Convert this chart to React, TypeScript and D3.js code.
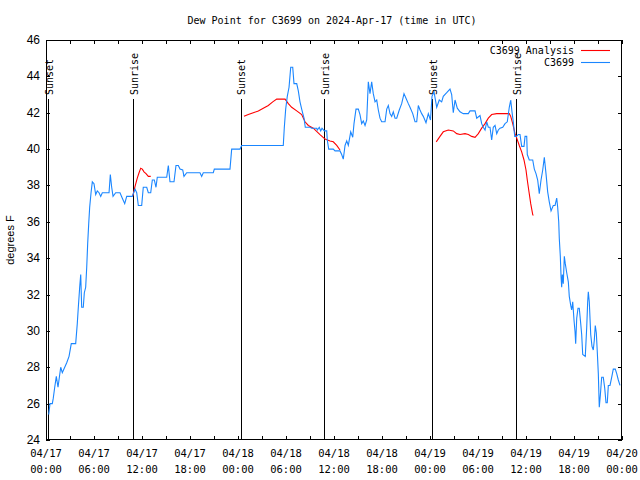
import React from "react";
import * as d3 from "d3";

// Hours since 2024-04-17 00:00 UTC
const obsHours = [
  0.34, 0.5, 0.79, 0.91, 1.09, 1.29, 1.5, 1.84, 2.04, 2.34, 2.59, 2.88, 3.16, 3.71, 3.91, 4.04, 4.21, 4.34, 4.46, 4.66,
  4.79, 4.96, 5.09, 5.21, 5.34, 5.46, 5.63, 5.79, 6.0, 6.21, 6.41, 6.63, 6.84, 7.04, 7.88, 8.04, 8.21, 8.38, 8.71, 9.25,
  9.54, 9.84, 10.09, 10.79, 11.13, 11.34, 11.54, 11.96, 12.16, 12.59, 12.79, 13.09, 13.29, 13.54, 13.75, 13.91, 15.09, 15.29, 15.5, 16.0,
  16.25, 16.54, 16.75, 17.09, 17.25, 17.59, 19.25, 19.46, 19.66, 20.91, 21.04, 23.0, 23.21, 24.25, 24.46, 29.66, 29.79, 29.96, 30.16, 30.38,
  30.59, 30.84, 31.0, 31.34, 31.54, 31.75, 31.96, 32.25, 32.41, 33.0, 33.21, 33.84, 33.91, 34.16, 34.34, 34.5, 34.79, 35.09, 35.16, 35.34,
  35.91, 36.13, 36.75, 36.96, 37.16, 37.38, 37.59, 37.79, 38.09, 38.34, 38.5, 38.75, 39.04, 39.25, 39.46, 39.66, 39.88, 40.09, 40.29, 40.5,
  40.71, 40.91, 41.13, 41.34, 41.54, 41.75, 41.96, 42.38, 42.59, 42.79, 43.0, 43.21, 43.41, 43.63, 43.84, 44.16, 44.46, 44.75, 45.0, 45.29,
  45.5, 45.84, 46.13, 46.34, 46.54, 46.75, 46.96, 47.16, 47.5, 47.79, 48.06, 48.25, 48.5, 48.84, 49.16, 49.46, 49.66, 50.09, 50.5, 50.71,
  50.91, 51.13, 51.41, 51.75, 52.16, 52.79, 53.0, 53.63, 53.84, 54.25, 54.46, 54.66, 54.88, 55.09, 55.29, 55.5, 55.71, 55.91, 56.13, 56.34,
  56.54, 56.75, 57.09, 57.38, 57.66, 57.91, 58.09, 58.25, 58.41, 58.59, 58.79, 59.04, 59.25, 59.46, 59.75, 59.88, 60.09, 60.16, 60.41, 60.84,
  61.04, 61.25, 61.46, 61.66, 61.88, 62.09, 62.29, 62.5, 62.71, 62.91, 63.13, 63.41, 63.63, 63.84, 63.96, 64.09, 64.16, 64.29, 64.38, 64.46,
  64.54, 64.66, 64.79, 64.91, 65.09, 65.29, 65.41, 65.59, 65.71, 65.84, 66.0, 66.13, 66.21, 66.34, 66.5, 66.66, 66.84, 66.96, 67.09, 67.41,
  67.59, 67.71, 67.79, 67.91, 68.09, 68.25, 68.41, 68.54, 68.66, 68.79, 68.91, 69.04, 69.16, 69.29, 69.46, 69.66, 69.84, 70.0, 70.16, 70.29,
  70.5, 70.71, 70.91, 71.16, 71.34, 71.54, 71.75,
];
const obsValues = [
  25.4, 26.0, 26.0, 26.3, 26.9, 27.5, 26.9, 28.0, 27.7, 28.0, 28.25, 28.6, 29.3, 29.3, 30.4, 31.3, 32.4, 33.1, 31.3, 31.3,
  32.1, 32.4, 33.5, 34.8, 35.9, 36.8, 37.6, 38.2, 38.1, 37.5, 37.7, 37.6, 37.4, 37.6, 37.6, 38.6, 37.9, 37.4, 37.6, 37.6,
  37.3, 37.0, 37.4, 37.4, 37.8, 37.6, 36.9, 36.9, 37.9, 37.9, 37.6, 37.6, 38.3, 38.3, 37.9, 38.45, 38.45, 39.1, 38.2, 38.2,
  39.1, 39.1, 38.9, 38.85, 38.5, 38.7, 38.7, 38.5, 38.7, 38.7, 38.9, 38.9, 40.0, 40.0, 40.2, 40.2, 41.2, 42.2, 42.9, 43.4,
  44.5, 44.5, 43.6, 43.6, 43.2, 42.6, 42.2, 41.7, 41.2, 41.2, 41.15, 41.15, 41.05, 41.2, 41.0, 41.15, 41.0, 41.0, 40.5, 40.0,
  40.0, 39.9, 39.9, 39.7, 39.45, 40.2, 40.45, 40.2, 40.95, 40.65, 41.4, 42.2, 42.2, 41.9, 41.4, 41.55, 41.3, 41.6, 43.7, 43.05,
  43.7, 43.05, 42.6, 42.7, 42.15, 41.7, 41.5, 41.5, 42.2, 42.4, 41.95, 41.8, 42.05, 41.7, 41.7, 42.15, 42.5, 43.05, 42.8, 42.5,
  42.3, 41.95, 41.5, 41.5, 42.4, 42.15, 41.95, 41.8, 41.45, 41.95, 41.6, 42.9, 43.15, 42.3, 42.7, 42.6, 42.9, 43.1, 43.3, 43.0,
  42.0, 42.7, 42.25, 42.05, 41.95, 41.95, 42.1, 42.1, 41.7, 41.85, 41.4, 41.2, 41.05, 41.5, 41.2, 41.2, 40.5, 41.2, 41.3, 40.85,
  41.05, 41.15, 41.2, 41.4, 41.5, 42.3, 42.7, 42.05, 41.5, 40.7, 40.7, 40.8, 40.8, 40.15, 40.15, 40.7, 40.7, 39.7, 39.4, 39.4,
  38.9, 38.65, 38.3, 37.55, 38.3, 38.85, 39.55, 38.65, 37.65, 37.1, 36.6, 36.9, 36.9, 37.3, 36.8, 36.0, 35.1, 34.1, 33.0, 32.4,
  33.1, 32.6, 34.1, 33.7, 33.2, 32.7, 31.9, 31.4, 31.15, 31.6, 30.6, 29.95, 29.3, 30.7, 31.25, 31.25, 30.4, 29.8, 28.7, 28.6,
  30.2, 31.6, 32.15, 31.6, 29.8, 29.15, 28.95, 29.5, 30.3, 29.9, 28.85, 27.65, 25.8, 26.45, 27.45, 27.45, 26.85, 26.05, 26.05, 27.0,
  27.0, 27.45, 27.9, 27.9, 27.65, 27.3, 27.0,
];

// Analysis series: NaN marks a gap between runs
const anaHours = [
  10.84, 11.13, 11.41, 11.63, 11.84, 12.04, 12.25, 12.5, 12.79, 13.09,
  13.2,
  24.75, 25.29, 25.91, 26.54, 27.16, 27.79, 28.34, 28.84, 29.88, 30.29, 30.71, 31.34, 31.96, 32.38, 32.79, 33.41, 34.25, 34.88, 35.5, 35.91, 36.34, 36.75,
  37.0,
  48.78, 49.25, 49.66, 50.29, 50.91, 51.34, 51.75, 52.38, 52.79, 53.21, 53.63, 54.04, 54.46, 54.88, 55.29, 55.71, 56.34, 57.91, 58.09, 58.34, 58.63,
  58.84, 59.16, 59.46, 59.75, 60.0, 60.16, 60.34, 60.59, 60.84, 60.91,
];
const anaValues = [
  37.4, 37.95, 38.4, 38.7, 38.95, 38.9, 38.75, 38.65, 38.5, 38.5,
  NaN,
  41.8, 41.9, 42.0, 42.1, 42.25, 42.4, 42.6, 42.75, 42.75, 42.5, 42.3, 42.1, 41.9, 41.5, 41.3, 41.15, 40.8, 40.55, 40.45, 40.4, 40.2, 39.95,
  NaN,
  40.4, 40.7, 40.95, 41.05, 41.0, 40.85, 40.8, 40.85, 40.8, 40.7, 40.65, 40.85, 41.15, 41.4, 41.7, 41.9, 41.95, 41.95, 41.8, 41.4, 40.85,
  40.6, 40.2, 39.85, 39.4, 38.85, 38.3, 37.75, 37.0, 36.4, 36.35,
];

const sunHours = [0.3, 10.9, 24.33, 34.8, 48.3, 58.8];
const sunLabels = ["Sunset", "Sunrise", "Sunset", "Sunrise", "Sunset", "Sunrise"];

const yTicks = [24, 26, 28, 30, 32, 34, 36, 38, 40, 42, 44, 46];
const xTickHours = [0, 6, 12, 18, 24, 30, 36, 42, 48, 54, 60, 66, 72];
const xTickDates = ["04/17", "04/17", "04/17", "04/17", "04/18", "04/18", "04/18", "04/18", "04/19", "04/19", "04/19", "04/19", "04/20"];
const xTickTimes = ["00:00", "06:00", "12:00", "18:00", "00:00", "06:00", "12:00", "18:00", "00:00", "06:00", "12:00", "18:00", "00:00"];
const xMinorHours = d3.range(3, 72, 6);

const seriesNames = ["C3699 Analysis", "C3699"];
const seriesColors = ["#ff0000", "#1a86ff"];

export default function App() {
  const W = 640, H = 480;
  const L = 46, R = 622, T = 40, B = 440;
  const x = d3.scaleLinear().domain([0, 72]).range([L, R]);
  const y = d3.scaleLinear().domain([24, 46]).range([B, T]);
  const mono = "'DejaVu Sans Mono', monospace";
  const sans = "'Liberation Sans', Arial, sans-serif";

  const obsLine = d3
    .line<number>()
    .x((_, i) => x(obsHours[i]))
    .y((v) => y(v))(obsValues) || "";
  const anaLine = d3
    .line<number>()
    .defined((v) => !isNaN(v))
    .x((_, i) => x(anaHours[i]))
    .y((v) => y(v))(anaValues) || "";

  const tl = 4;
  const px = (v: number) => Math.round(v) + 0.5;

  return (
    <svg width={W} height={H} style={{ position: "absolute", left: 0, top: 0, background: "#fff" }}>
      <rect x={0} y={0} width={W} height={H} fill="#fff" />
      <text x={332} y={24} fontFamily={mono} fontSize={10} textAnchor="middle" fill="#000">
        Dew Point for C3699 on 2024-Apr-17 (time in UTC)
      </text>

      {/* y ticks */}
      {yTicks.map((t) => (
        <g key={"y" + t}>
          <line x1={L} x2={L + tl} y1={px(y(t))} y2={px(y(t))} stroke="#000" />
          <line x1={R - tl} x2={R} y1={px(y(t))} y2={px(y(t))} stroke="#000" />
          <text x={40} y={y(t) + 4} fontFamily={sans} fontSize={12} textAnchor="end" fill="#000">
            {t}
          </text>
        </g>
      ))}

      {/* x ticks */}
      {xTickHours.map((h, i) => (
        <g key={"x" + h}>
          <line x1={px(x(h))} x2={px(x(h))} y1={B} y2={B - tl} stroke="#000" />
          <line x1={px(x(h))} x2={px(x(h))} y1={T} y2={T + tl} stroke="#000" />
          <text x={x(h)} y={457} fontFamily={mono} fontSize={10.5} textAnchor="middle" fill="#000">
            {xTickDates[i]}
          </text>
          <text x={x(h)} y={473} fontFamily={mono} fontSize={10.5} textAnchor="middle" fill="#000">
            {xTickTimes[i]}
          </text>
        </g>
      ))}
      {xMinorHours.map((h) => (
        <g key={"m" + h}>
          <line x1={px(x(h))} x2={px(x(h))} y1={B} y2={B - tl} stroke="#000" />
          <line x1={px(x(h))} x2={px(x(h))} y1={T} y2={T + tl} stroke="#000" />
        </g>
      ))}

      <text
        transform={`translate(14,${(T + B) / 2}) rotate(-90)`}
        fontFamily={sans}
        fontSize={11}
        textAnchor="middle"
        fill="#000"
      >
        degrees F
      </text>

      {/* sun events */}
      {sunHours.map((h, i) => (
        <g key={"s" + i}>
          <line x1={px(x(h))} x2={px(x(h))} y1={99} y2={B} stroke="#000" />
          <text
            transform={`translate(${x(h) + 1},95) rotate(-90)`}
            dy="0.35em"
            fontFamily={mono}
            fontSize={10}
            textAnchor="start"
            fill="#000"
          >
            {sunLabels[i]}
          </text>
        </g>
      ))}

      <path d={anaLine} fill="none" stroke={seriesColors[0]} strokeWidth={1.1} />
      <path d={obsLine} fill="none" stroke={seriesColors[1]} strokeWidth={1.1} />

      {/* legend */}
      {seriesNames.map((n, i) => (
        <g key={"l" + i}>
          <text x={574} y={54 + i * 12} fontFamily={mono} fontSize={10} textAnchor="end" fill="#000">
            {n}
          </text>
          <line x1={581} x2={610} y1={50.5 + i * 12} y2={50.5 + i * 12} stroke={seriesColors[i]} strokeWidth={1.1} />
        </g>
      ))}

      <rect x={L + 0.5} y={T + 0.5} width={R - L - 1} height={B - T - 1} fill="none" stroke="#000" />
    </svg>
  );
}
